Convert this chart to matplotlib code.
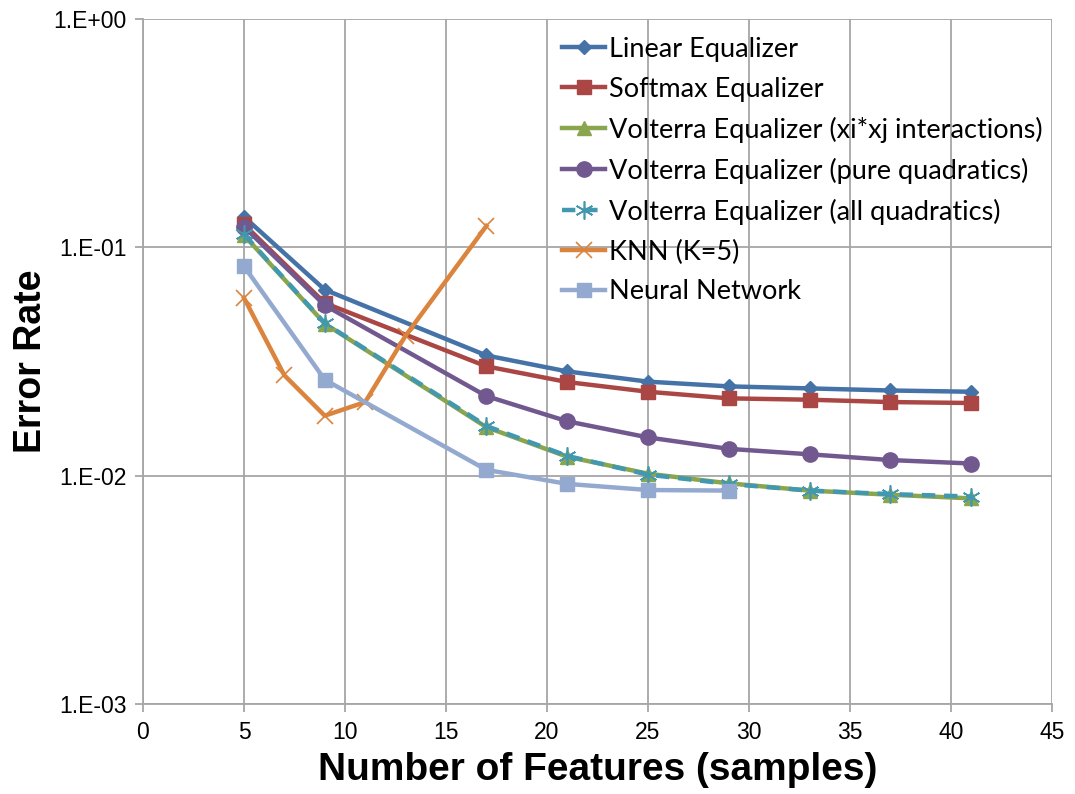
import numpy as np
import matplotlib
matplotlib.use("Agg")
import matplotlib.pyplot as plt
from matplotlib.ticker import FixedLocator, FixedFormatter, NullLocator

# values
x_main = [5, 9, 17, 21, 25, 29, 33, 37, 41]
linear_eq = [0.136, 0.0652, 0.0336, 0.0286, 0.0258, 0.0246, 0.0241, 0.0236, 0.0233]
softmax_eq = [0.126, 0.057, 0.0301, 0.0257, 0.0233, 0.0218, 0.0215, 0.0210, 0.0208]
volterra_xixj = [0.113, 0.0463, 0.0163, 0.0121, 0.0102, 0.00925, 0.0086, 0.00825, 0.00795]
volterra_pure = [0.123, 0.0557, 0.0223, 0.0173, 0.0147, 0.0131, 0.0124, 0.0117, 0.0113]
volterra_all = [0.114, 0.0465, 0.0165, 0.0122, 0.0101, 0.0092, 0.0086, 0.0083, 0.0081]
knn_x = [5, 7, 9, 11, 13, 17]
knn_err = [0.060, 0.0275, 0.0183, 0.021, 0.041, 0.124]
nn_x = [5, 9, 17, 21, 25, 29]
nn_err = [0.0826, 0.0263, 0.0106, 0.0092, 0.00865, 0.0086]

labels = ["Linear Equalizer", "Softmax Equalizer",
          "Volterra Equalizer (xi*xj interactions)",
          "Volterra Equalizer (pure quadratics)",
          "Volterra Equalizer (all quadratics)",
          "KNN (K=5)", "Neural Network"]
x_ticks = [0, 5, 10, 15, 20, 25, 30, 35, 40, 45]
y_ticks = [1e-3, 1e-2, 1e-1, 1e0]
y_ticklabels = ["1.E-03", "1.E-02", "1.E-01", "1.E+00"]

LW = 3.2
GRID = "#A6A6A6"

fig = plt.figure(figsize=(10.75, 7.94), dpi=100)
ax = fig.add_axes([0.133, 0.1134, 0.8456, 0.8627])

ax.plot(x_main, linear_eq, color="#4572A7", lw=LW, marker="D", ms=7.5, label=labels[0])
ax.plot(x_main, softmax_eq, color="#AA4643", lw=LW, marker="s", ms=10, label=labels[1])
ax.plot(x_main, volterra_xixj, color="#89A54E", lw=LW, marker="^", ms=10, label=labels[2])
ax.plot(x_main, volterra_pure, color="#71588F", lw=LW, marker="o", ms=11, label=labels[3])
ax.plot(x_main, volterra_all, color="#4198AF", lw=LW, ls=(0, (3, 2)), marker=(6, 2, 0),
        ms=13, mew=1.2, label=labels[4])
ax.plot(knn_x, knn_err, color="#DB843D", lw=LW, marker="x", ms=11, mew=1.2, label=labels[5])
ax.plot(nn_x, nn_err, color="#93A9CF", lw=LW, marker="s", ms=10, label=labels[6])

ax.set_yscale("log")
ax.set_xlim(0, 45)
ax.set_ylim(1e-3, 1)
ax.xaxis.set_major_locator(FixedLocator(x_ticks))
ax.yaxis.set_major_locator(FixedLocator(y_ticks))
ax.yaxis.set_major_formatter(FixedFormatter(y_ticklabels))
ax.yaxis.set_minor_locator(NullLocator())

ax.grid(True, color=GRID, lw=1.3)
ax.set_axisbelow(True)
for side in ["top", "right"]:
    ax.spines[side].set_visible(False)
for side in ["left", "bottom"]:
    ax.spines[side].set_color(GRID)
    ax.spines[side].set_linewidth(1.3)
ax.tick_params(length=6, width=1.3, color=GRID, labelsize=16.5, pad=6)
for t in ax.get_xticklabels() + ax.get_yticklabels():
    t.set_fontname("Liberation Sans")

ax.set_xlabel("Number of Features (samples)", fontsize=28, fontweight="bold",
              fontname="Liberation Sans", labelpad=6)
ax.set_ylabel("Error Rate", fontsize=27, fontweight="bold",
              fontname="Liberation Sans", labelpad=3)

leg = ax.legend(loc="upper left", bbox_to_anchor=(0.449, 0.99), frameon=False,
                prop={"family": "Lato", "size": 19.5}, handlelength=1.6,
                handletextpad=0.15, labelspacing=0.55, borderaxespad=0)

plt.savefig("out.png", dpi=100)
